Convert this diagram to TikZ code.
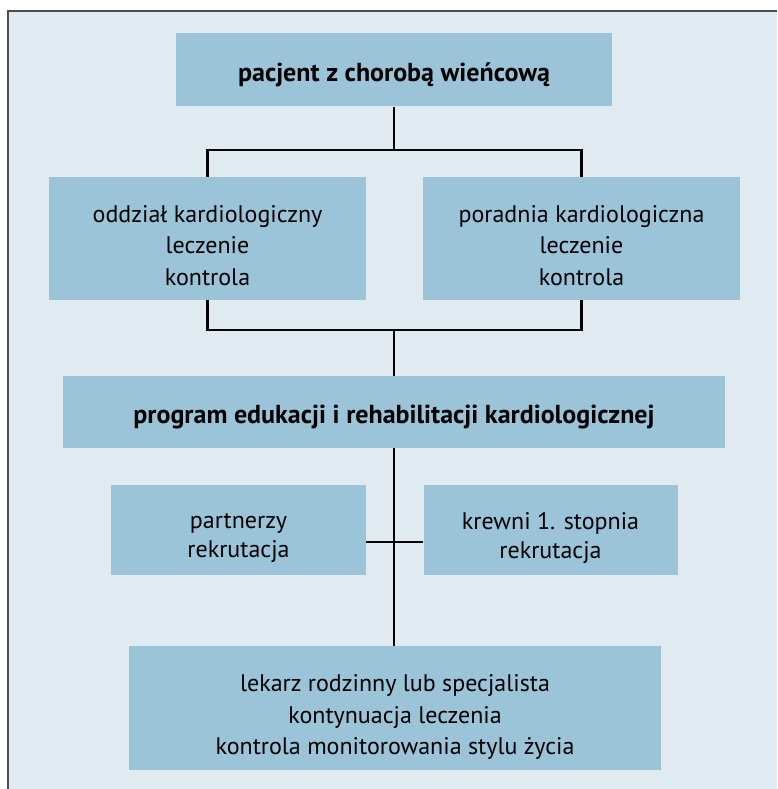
\documentclass[tikz,border=0pt]{standalone}
\usepackage{fontspec}
\setmainfont{PT Sans}
\definecolor{bgc}{HTML}{E0EBF1}
\definecolor{boxc}{HTML}{9BC4D8}
\definecolor{framec}{HTML}{505050}
\begin{document}
\begin{tikzpicture}[x=1pt,y=-1pt,
  box/.style={fill=boxc, draw=none, inner sep=0pt},
  txt/.style={inner sep=0pt, align=center, font=\fontsize{24}{31.5}\selectfont},
  btxt/.style={txt, font=\fontsize{26}{32}\selectfont\bfseries},
  conn/.style={line width=2.4pt, black}]
\useasboundingbox (0,0) rectangle (777,789);
\fill[bgc] (8,11) rectangle (777,789);
\draw[framec, line width=2pt] (777,11) -- (8,11) -- (8,789);

\node[box, minimum width=436pt, minimum height=73pt] (T) at (394,70) {};
\node[box, minimum width=317pt, minimum height=123pt] (L) at (207.5,238.5) {};
\node[box, minimum width=317pt, minimum height=123pt] (R) at (581.5,238.5) {};
\node[box, minimum width=662pt, minimum height=72pt] (P) at (394,412) {};
\node[box, minimum width=255pt, minimum height=90pt] (A) at (238.5,530) {};
\node[box, minimum width=254pt, minimum height=90pt] (K) at (550.5,530) {};
\node[box, minimum width=532pt, minimum height=124pt] (B) at (395,708) {};

\node[btxt] (Tt) at ([yshift=-5pt]T.center) {pacjent z chorobą wieńcową};
\node[txt] (Lt) at ([yshift=-7pt]L.center) {oddział kardiologiczny\\leczenie\\kontrola};
\node[txt] (Rt) at ([yshift=-7pt]R.center) {poradnia kardiologiczna\\leczenie\\kontrola};
\node[btxt] (Pt) at ([yshift=-5pt]P.center) {program edukacji i rehabilitacji kardiologicznej};
\node[txt, font=\fontsize{24}{29.5}\selectfont] (At) at ([yshift=-8pt]A.center) {partnerzy\\rekrutacja};
\node[txt, font=\fontsize{24}{29.5}\selectfont] (Kt) at ([yshift=-8pt]K.center) {krewni 1. stopnia\\rekrutacja};
\node[txt] (Bt) at ([yshift=-9pt]B.center) {lekarz rodzinny lub specjalista\\kontynuacja leczenia\\kontrola monitorowania stylu życia};

\coordinate (j1) at (394,150);
\coordinate (j2) at (394,330);
\coordinate (j3) at (394,542);

\draw[conn] (T.south) -- (j1);
\draw[conn] (L.north) |- (j1) -| (R.north);
\draw[conn] (L.south) |- (j2) -| (R.south);
\draw[conn] (j2) -- (P.north);
\draw[conn] (P.south) -- (P.south |- B.north);
\draw[conn] (A.east |- j3) -- (K.west |- j3);
\end{tikzpicture}
\end{document}
